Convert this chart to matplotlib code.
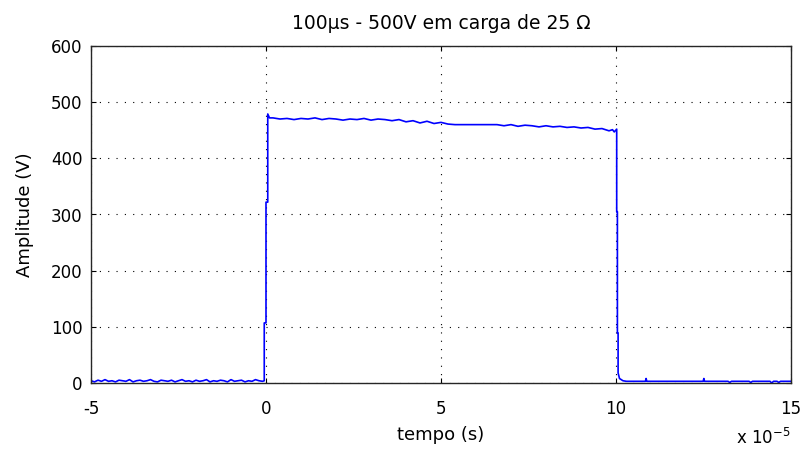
import numpy as np
import matplotlib
matplotlib.use("Agg")
import matplotlib.pyplot as plt

# time in units of 1e-5 s
base_t = [round(-5 + 0.1 * i, 2) for i in range(50)]
base_v = [4, 2, 5, 3, 6, 3, 4, 2, 5, 4, 3, 6, 2, 4, 5, 3, 4, 6, 3, 2,
          5, 4, 3, 5, 2, 4, 6, 3, 4, 2, 5, 3, 4, 6, 2, 4, 3, 5, 4, 2,
          6, 3, 4, 5, 2, 4, 3, 6, 4, 3]

rise_t = [-0.05, -0.05, 0.0, 0.0, 0.05, 0.05, 0.1]
rise_v = [4, 107, 107, 322, 322, 479, 472]

top_t = [round(0.2 + 0.2 * i, 2) for i in range(49)]
top_v = [472, 470, 471, 469, 471, 470, 472, 469, 471, 470, 468, 470, 469,
         471, 468, 470, 469, 467, 469, 465, 467, 463, 466, 462, 464, 461,
         460, 460, 460, 460, 460, 460, 460,
         458, 460, 457, 459, 458, 456, 458, 456, 457, 455, 456, 454, 455,
         452, 453, 449]

fall_t = [9.9, 9.95, 10.02, 10.02, 10.04, 10.04, 10.06, 10.06, 10.1, 10.2, 10.3]
fall_v = [451, 447, 452, 305, 305, 89, 89, 18, 8, 4, 3]

tail_t = [10.84, 10.86, 10.88, 12.49, 12.51, 12.53, 13.2, 13.25, 13.3,
          13.8, 13.85, 13.9, 14.4, 14.45, 14.5, 14.6, 14.65, 14.7, 15.0]
tail_v = [3, 8, 3, 3, 8, 3, 3, 1, 3, 3, 1, 3, 3, 0, 3, 3, 1, 3, 3]

x_ticks = [-5, 0, 5, 10, 15]
y_ticks = [0, 100, 200, 300, 400, 500, 600]

t = np.array(base_t + rise_t + top_t + fall_t + tail_t)
v = np.array(base_v + rise_v + top_v + fall_v + tail_v)

plt.rcParams['font.family'] = ['DejaVu Sans']

fig = plt.figure(figsize=(8.04, 4.61), dpi=100)
ax = fig.add_axes([91 / 804, 78 / 461, 700 / 804, 337 / 461])
ax.plot(t, v, color=(0, 0, 1), lw=1.2)

ax.set_xlim(-5, 15)
ax.set_ylim(0, 600)
ax.set_xticks(x_ticks)
ax.set_xticklabels([str(x) for x in x_ticks])
ax.set_yticks(y_ticks)
ax.set_yticklabels([str(y) for y in y_ticks])
ax.grid(True, color='black', linestyle=(0, (1, 6.5)), linewidth=0.8)
ax.tick_params(direction='in', length=3.5, width=0.8, top=True, right=True,
               labelsize=12, colors='black')
ax.tick_params(axis='x', pad=12)
ax.tick_params(axis='y', pad=6)
for s in ax.spines.values():
    s.set_linewidth(1.0)
    s.set_color('#262626')

ax.set_title('100µs - 500V em carga de 25 Ω', fontsize=13.5, pad=12)
ax.set_xlabel('tempo (s)', fontsize=13, labelpad=6)
ax.set_ylabel('Amplitude (V)', fontsize=13, labelpad=12)
fig.text(791 / 804, 1 - 438 / 461, r'x 10$^{-5}$', ha='right', va='center', fontsize=12)

fig.savefig('out.png', dpi=100)
